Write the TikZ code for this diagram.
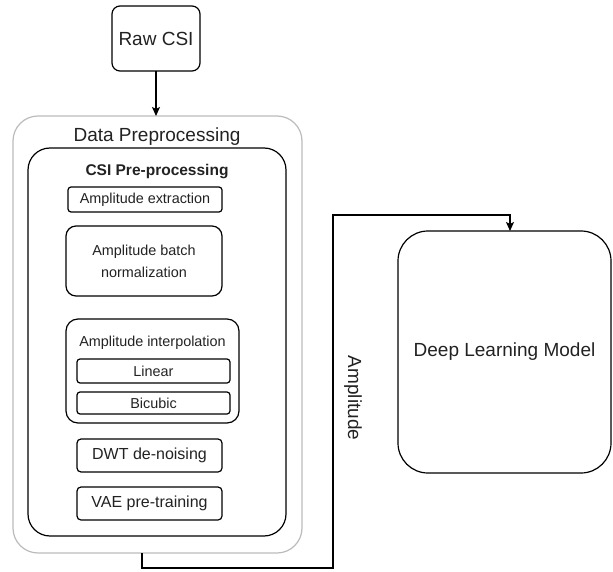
\documentclass[tikz,border=0pt]{standalone}
\usepackage{fontspec}
\setmainfont{Liberation Sans}
\usetikzlibrary{arrows.meta}
\definecolor{framegray}{HTML}{BBBBBB}
\definecolor{inkgray}{HTML}{222222}
\begin{document}
\begin{tikzpicture}[x=1pt,y=-1pt,
  every node/.style={inner sep=0pt, outer sep=0pt, text=inkgray},
  box/.style={draw=black, line width=1.2pt, rectangle, align=center},
  bigtext/.style={font=\fontsize{19}{23}\selectfont},
  midtext/.style={font=\fontsize{16}{19}\selectfont},
  smalltext/.style={font=\fontsize{14.4}{22}\selectfont},
  flow/.style={draw=black, line width=1.2pt, -{Stealth[length=9pt,width=8pt,inset=2pt]}}
]
\useasboundingbox (0,0) rectangle (613,572);

% input
\node[box, bigtext, rounded corners=8pt, minimum width=88pt, minimum height=65pt] (raw) at (156,38.5) {Raw CSI};

% preprocessing stage
\node[draw=framegray, line width=1.2pt, rectangle, rounded corners=25pt, minimum width=289pt, minimum height=437pt] (prep) at (157.5,334.5) {};
\node[bigtext] (preptitle) at (157,137) {Data Preprocessing};
\node[box, rounded corners=22pt, minimum width=258pt, minimum height=388pt] (csi) at (157,342) {};
\node[font=\fontsize{15.5}{19}\selectfont\bfseries] (csititle) at (157,172) {CSI Pre-processing};

\node[box, smalltext, rounded corners=3pt, minimum width=154pt, minimum height=25pt] (ext) at (145,199.5) {Amplitude extraction};
\node[box, smalltext, rounded corners=10pt, minimum width=156pt, minimum height=70pt] (norm) at (144,261) {Amplitude batch\\normalization};
\node[box, rounded corners=12pt, minimum width=173pt, minimum height=104pt] (interp) at (152.5,371) {};
\node[smalltext] (interptitle) at (152.5,343) {Amplitude interpolation};
\node[box, smalltext, rounded corners=3pt, minimum width=153pt, minimum height=24pt] (lin) at (153.5,371) {Linear};
\node[box, smalltext, rounded corners=3pt, minimum width=153pt, minimum height=22pt] (bic) at (153.5,403) {Bicubic};
\node[box, midtext, rounded corners=4pt, minimum width=145pt, minimum height=33pt] (dwt) at (149.5,455.5) {DWT de-noising};
\node[box, midtext, rounded corners=4pt, minimum width=145pt, minimum height=33pt] (vae) at (149.5,503.5) {VAE pre-training};

% model
\node[box, bigtext, rounded corners=30pt, minimum width=213pt, minimum height=242pt] (dl) at (504.5,352) {Deep Learning Model};

% connectors
\draw[flow] (raw.south) -- (prep.north -| raw.south);
\coordinate (dlin) at (510,231);
\draw[flow] (prep.south -| 142,0) -- (142,568) -- (333,568) -- (333,215) -- (510,215) -- (dl.north -| dlin);
\node[bigtext, rotate=-90] (amp) at (353,398) {Amplitude};
\end{tikzpicture}
\end{document}
